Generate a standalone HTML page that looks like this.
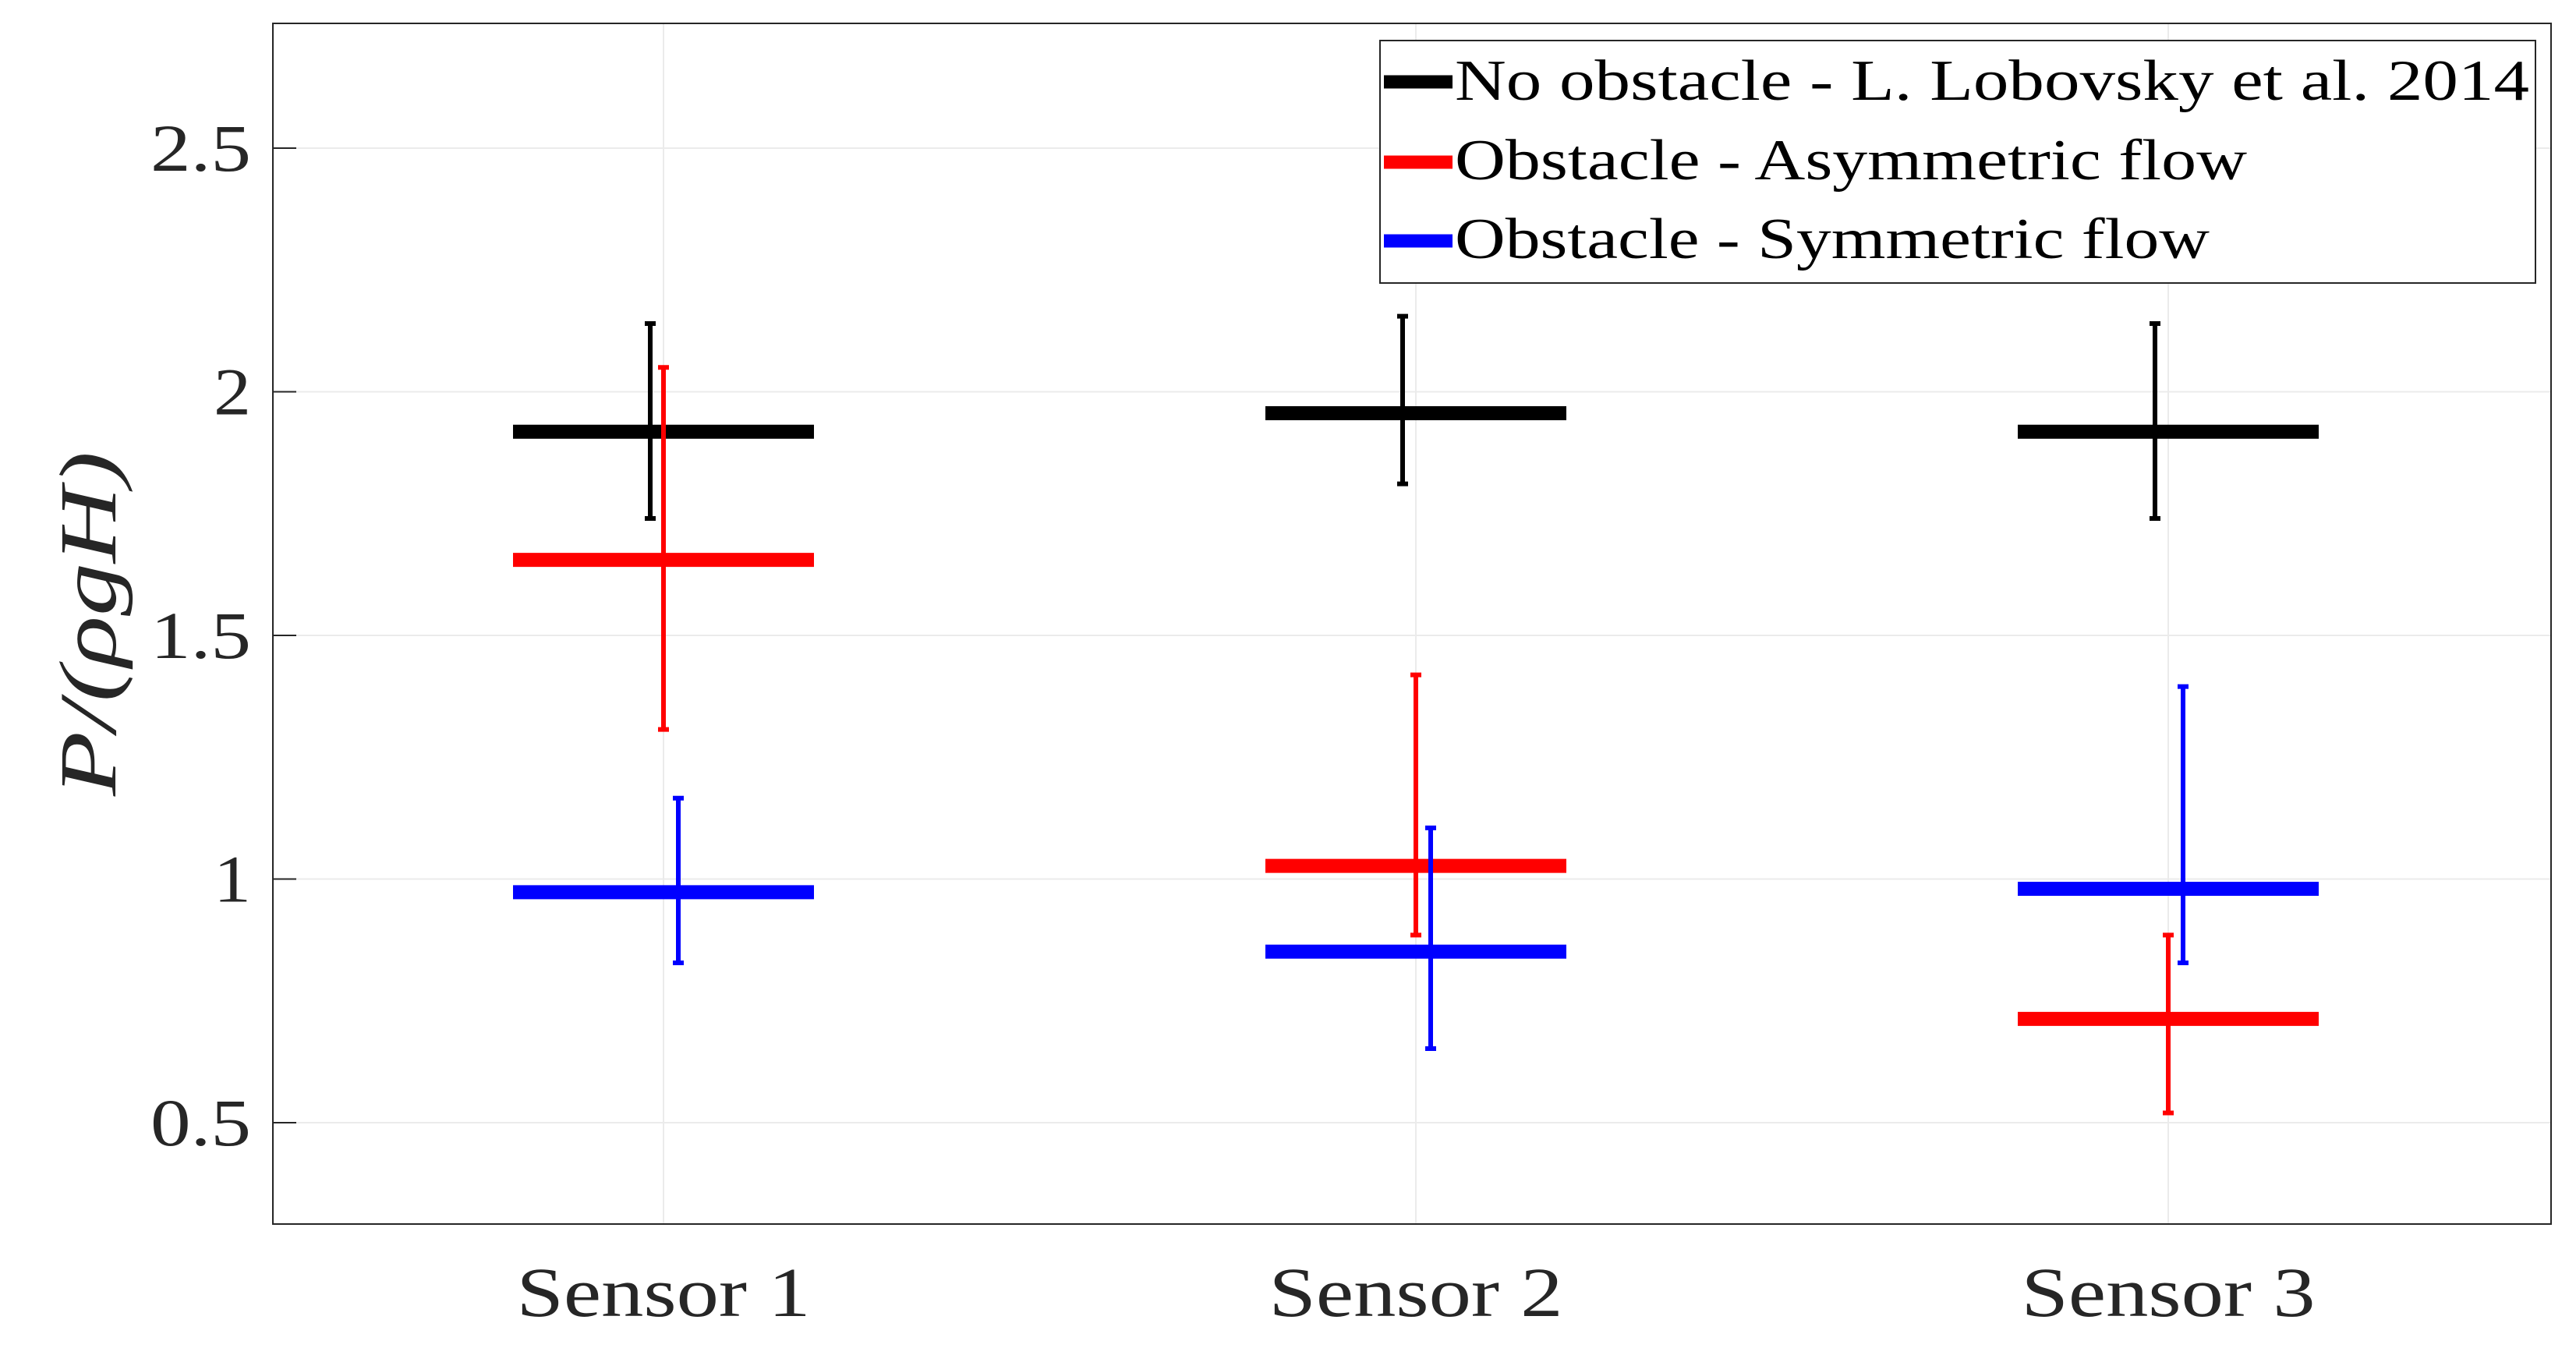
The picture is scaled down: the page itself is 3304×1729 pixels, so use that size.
<!DOCTYPE html>
<html><head><meta charset="utf-8"><style>
html,body{margin:0;padding:0;background:#fff;}
svg text{font-family:"Liberation Serif",serif;}
</style></head><body>
<svg id="chart" width="3304" height="1724" xmlns="http://www.w3.org/2000/svg">
<rect x="0" y="0" width="3304" height="1724" fill="#fff"/>
<g id="grid"></g>
<g id="series"></g>
<rect x="350" y="30" width="2922" height="1540" fill="none" stroke="#262626" stroke-width="2"/>
<g id="axes"></g>
<text transform="translate(148,800) rotate(-90)" text-anchor="middle" font-size="104" font-style="italic" fill="#262626" textLength="442" lengthAdjust="spacingAndGlyphs">P/(ρgH)</text>
<g>
<rect x="1770" y="52" width="1482" height="311" fill="#fff" stroke="#262626" stroke-width="2"/>
<line x1="1775" y1="105" x2="1863" y2="105" stroke="#000" stroke-width="17"/>
<text x="1866" y="128" font-size="74" textLength="1378" lengthAdjust="spacingAndGlyphs">No obstacle - L. Lobovsky et al. 2014</text>
<line x1="1775" y1="208" x2="1863" y2="208" stroke="#f00" stroke-width="17"/>
<text x="1866" y="230" font-size="74" textLength="1016" lengthAdjust="spacingAndGlyphs">Obstacle - Asymmetric flow</text>
<line x1="1775" y1="309" x2="1863" y2="309" stroke="#00f" stroke-width="17"/>
<text x="1866" y="331" font-size="74" textLength="968" lengthAdjust="spacingAndGlyphs">Obstacle - Symmetric flow</text>
</g>
</svg>
<script>
const categories = ["Sensor 1","Sensor 2","Sensor 3"];
const yTicks = [0.5,1,1.5,2,2.5];
const yTickLabels = ["0.5","1","1.5","2","2.5"];
const seriesNames = ["no-obstacle","asymmetric","symmetric"];
const seriesColors = ["#000","#f00","#00f"];
const blackMean = [1.918,1.956,1.918];
const blackHigh = [2.14,2.155,2.14];
const blackLow = [1.74,1.811,1.74];
const redMean = [1.655,1.027,0.713];
const redHigh = [2.05,1.419,0.885];
const redLow = [1.307,0.885,0.52];
const blueMean = [0.973,0.851,0.98];
const blueHigh = [1.166,1.105,1.395];
const blueLow = [0.828,0.652,0.828];

const NS="http://www.w3.org/2000/svg";
function y(v){return 1440-(v-0.5)*625;}
function x(i){return 851+i*965;}
function mk(tag,attrs,parent){const e=document.createElementNS(NS,tag);for(const k in attrs)e.setAttribute(k,attrs[k]);parent.appendChild(e);return e;}
const grid=document.getElementById('grid'),axes=document.getElementById('axes'),ser=document.getElementById('series');
yTicks.forEach((t,i)=>{
  const g=mk('line',{x1:350,x2:3272,y1:y(t),y2:y(t),stroke:'#ebebeb','stroke-width':2},grid);
  
  
  const tk=mk('line',{x1:350,x2:380,y1:y(t),y2:y(t),stroke:'#262626','stroke-width':2},axes);
  
  
  const lab=yTickLabels[i];
  const tx=mk('text',{x:322,y:y(t)+29,'text-anchor':'end','font-size':86,fill:'#262626',textLength:lab.length>1?129:48,lengthAdjust:'spacingAndGlyphs'},axes);
  tx.textContent=lab;
  
  
});
categories.forEach((c,i)=>{
  const g=mk('line',{x1:x(i),x2:x(i),y1:30,y2:1570,stroke:'#ebebeb','stroke-width':2},grid);
  
  
  const tx=mk('text',{x:x(i),y:1688,'text-anchor':'middle','font-size':90,fill:'#262626',textLength:377,lengthAdjust:'spacingAndGlyphs'},axes);
  tx.textContent=c;
  
  
});
const all=[[blackMean,blackHigh,blackLow,-17],[redMean,redHigh,redLow,0],[blueMean,blueHigh,blueLow,19]];
all.forEach((s,k)=>{
  const [m,h,l,off]=s;const col=seriesColors[k];
  categories.forEach((c,i)=>{
    const bar=mk('line',{x1:x(i)-193,x2:x(i)+193,y1:y(m[i]),y2:y(m[i]),stroke:col,'stroke-width':18},ser);
    
    
    const cx=x(i)+off;
    const eb=mk('path',{d:`M${cx},${y(h[i])}V${y(l[i])}M${cx-7},${y(h[i])}H${cx+7}M${cx-7},${y(l[i])}H${cx+7}`,stroke:col,'stroke-width':6,fill:'none'},ser);
    
    
  });
});
</script>
</body></html>
